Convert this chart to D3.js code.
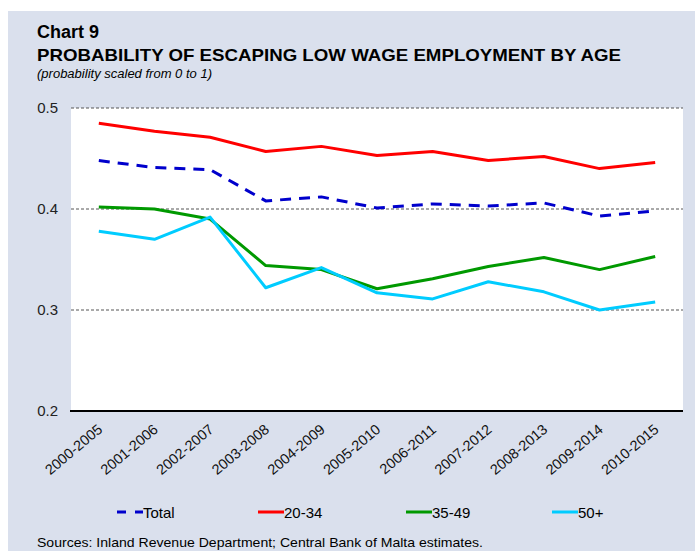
<!DOCTYPE html>
<html>
<head>
<meta charset="utf-8">
<script src="https://cdn.jsdelivr.net/npm/d3@7"></script>
<style>
  html, body { margin: 0; padding: 0; background: #ffffff; }
  svg { display: block; font-family: Arial, "Liberation Sans", sans-serif; }
</style>
</head>
<body>
<svg id="chart" width="695" height="551"></svg>
<script>
// Periods (five-year windows)
const periods = ["2000-2005", "2001-2006", "2002-2007", "2003-2008", "2004-2009",
  "2005-2010", "2006-2011", "2007-2012", "2008-2013", "2009-2014", "2010-2015"];

// Probability of escaping low wage employment, by age group
const total   = [0.448, 0.441, 0.439, 0.408, 0.412, 0.401, 0.405, 0.403, 0.406, 0.393, 0.398];
const age2034 = [0.485, 0.477, 0.471, 0.457, 0.462, 0.453, 0.457, 0.448, 0.452, 0.440, 0.446];
const age3549 = [0.402, 0.400, 0.390, 0.344, 0.340, 0.321, 0.331, 0.343, 0.352, 0.340, 0.353];
const age50p  = [0.378, 0.370, 0.392, 0.322, 0.342, 0.317, 0.311, 0.328, 0.318, 0.300, 0.308];

const yTicks = [0.2, 0.3, 0.4, 0.5];

const series = [
  { name: "Total", values: total,   color: "#0000cc", dash: "11,8" },
  { name: "20-34", values: age2034, color: "#ff0000", dash: null },
  { name: "35-49", values: age3549, color: "#009900", dash: null },
  { name: "50+",   values: age50p,  color: "#00ccff", dash: null }
];

const svg = d3.select("#chart");
const W = 695, H = 551;
const plot = { left: 71, right: 683, top: 108, bottom: 411 };

// Panel background
svg.append("rect").attr("x", 8).attr("y", 11).attr("width", W - 8).attr("height", H - 11)
  .attr("fill", "#dae0ed");

// Titles (stretched slightly to the house style width)
function label(xp, yp, size, txt, len, opts = {}) {
  const t = svg.append("text").attr("x", xp).attr("y", yp).attr("font-size", size)
    .attr("fill", "#000").text(txt);
  if (opts.bold) t.attr("font-weight", "bold");
  if (opts.italic) t.attr("font-style", "italic");
  if (len) t.attr("textLength", len).attr("lengthAdjust", "spacingAndGlyphs");
  return t;
}
label(37, 38, 17.5, "Chart 9", 62, { bold: true });
label(37, 61, 17, "PROBABILITY OF ESCAPING LOW WAGE EMPLOYMENT BY AGE", 584, { bold: true });
label(37, 78, 12, "(probability scaled from 0 to 1)", 175, { italic: true });

// Plot area
svg.append("rect").attr("x", plot.left).attr("y", plot.top)
  .attr("width", plot.right - plot.left).attr("height", plot.bottom - plot.top)
  .attr("fill", "#ffffff");

const x = d3.scalePoint().domain(periods).range([plot.left, plot.right]).padding(0.5);
const y = d3.scaleLinear().domain([0.2, 0.5]).range([plot.bottom, plot.top]);

// Dashed gridlines
svg.append("g").selectAll("line").data(yTicks.filter(t => t > 0.2)).join("line")
  .attr("x1", plot.left).attr("x2", plot.right)
  .attr("y1", d => y(d)).attr("y2", d => y(d))
  .attr("stroke", "#555").attr("stroke-width", 1).attr("stroke-dasharray", "3,2");

// Y axis labels
const yAxis = d3.axisLeft(y).tickValues(yTicks).tickFormat(d3.format(".1f")).tickSize(0).tickPadding(13);
const gy = svg.append("g").attr("transform", `translate(${plot.left},0)`).call(yAxis);
gy.select(".domain").remove();
gy.selectAll("text").attr("font-size", 15).attr("fill", "#222")
  .attr("font-family", "Arial, 'Liberation Sans', sans-serif");

// X axis: rotated period labels
const xAxis = d3.axisBottom(x).tickSize(0).tickPadding(0);
const gx = svg.append("g").attr("transform", `translate(0,${plot.bottom})`).call(xAxis);
gx.select(".domain").remove();
gx.selectAll("text")
  .attr("font-size", 14.5).attr("fill", "#111")
  .attr("font-family", "Arial, 'Liberation Sans', sans-serif")
  .attr("text-anchor", "end").attr("y", 0).attr("dy", null)
  .attr("transform", "translate(4,20) rotate(-40)");

svg.append("line").attr("x1", plot.left - 1).attr("x2", plot.right).attr("y1", plot.bottom).attr("y2", plot.bottom)
  .attr("stroke", "#000").attr("stroke-width", 2);

// Lines
const line = d3.line().x((d, i) => x(periods[i])).y(d => y(d));
svg.append("g").selectAll("path").data(series).join("path")
  .attr("d", d => line(d.values))
  .attr("fill", "none")
  .attr("stroke", d => d.color)
  .attr("stroke-width", 3)
  .attr("stroke-linejoin", "round")
  .attr("stroke-dasharray", d => d.dash);

// Legend
const legendX = [117, 258, 406, 552];
const lg = svg.append("g").selectAll("g").data(series).join("g")
  .attr("transform", (d, i) => `translate(${legendX[i]},512)`);
lg.append("line").attr("x1", 0).attr("x2", 26).attr("y1", 0).attr("y2", 0)
  .attr("stroke", d => d.color).attr("stroke-width", 3)
  .attr("stroke-dasharray", d => d.dash ? "9,9" : null);
lg.append("text").attr("x", 26).attr("y", 5.5).attr("font-size", 15).attr("fill", "#000")
  .text(d => d.name);

// Source note
label(37, 547, 13, "Sources: Inland Revenue Department; Central Bank of Malta estimates.", 446);
</script>
</body>
</html>
